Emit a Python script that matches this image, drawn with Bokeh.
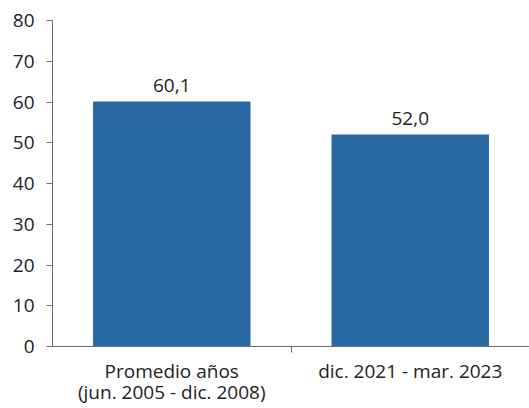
from bokeh.plotting import figure
from bokeh.models import ColumnDataSource, FixedTicker, Range1d
from bokeh.core.properties import value
from bokeh.embed import file_html
from bokeh.resources import INLINE

categories = ["Promedio años\n(jun. 2005 - dic. 2008)", "dic. 2021 - mar. 2023"]
values = [60.1, 52.0]
labels = ["60,1", "52,0"]
y_ticks = [0, 10, 20, 30, 40, 50, 60, 70, 80]

FONT = "Open Sans"
TXT = "#222222"
AX = "#6e6e6e"

xpos = [i + 0.5 for i in range(len(categories))]
src = ColumnDataSource(dict(x=xpos, top=values, lab=labels))

p = figure(width=529, height=408, output_backend="svg", toolbar_location=None,
           x_range=Range1d(0, len(categories)), y_range=Range1d(0, 80),
           min_border_left=52, min_border_right=0, min_border_top=20, min_border_bottom=62)
p.outline_line_color = None
p.grid.grid_line_color = None
p.background_fill_color = "white"
p.border_fill_color = "white"

p.vbar(x="x", top="top", width=0.66, bottom=0, source=src, color="#2869a4", line_color=None)
p.text(x="x", y="top", text="lab", source=src, text_align="center", text_baseline="bottom",
       y_offset=-10, text_font=value(FONT), text_font_size="19px", text_color=TXT)

# y axis
p.yaxis.ticker = FixedTicker(ticks=y_ticks)
p.yaxis.minor_tick_line_color = None
p.yaxis.major_tick_in = 0
p.yaxis.major_tick_out = 6
p.yaxis.axis_line_color = AX
p.yaxis.major_tick_line_color = AX
p.yaxis.major_label_text_font = FONT
p.yaxis.major_label_text_font_size = "19px"
p.yaxis.major_label_text_color = TXT
p.yaxis.major_label_standoff = 12

# x axis
p.xaxis.ticker = FixedTicker(ticks=xpos, minor_ticks=[1])
p.xaxis.major_label_overrides = {x: c for x, c in zip(xpos, categories)}
p.xaxis.major_tick_in = 0
p.xaxis.major_tick_out = 0
p.xaxis.minor_tick_in = 0
p.xaxis.minor_tick_out = 6
p.xaxis.minor_tick_line_color = AX
p.xaxis.axis_line_color = AX
p.xaxis.major_label_text_font = FONT
p.xaxis.major_label_text_font_size = "19px"
p.xaxis.major_label_text_color = TXT
p.xaxis.major_label_text_line_height = 0.84
p.xaxis.major_label_standoff = 5

open("out.html", "w").write(file_html(p, INLINE))
